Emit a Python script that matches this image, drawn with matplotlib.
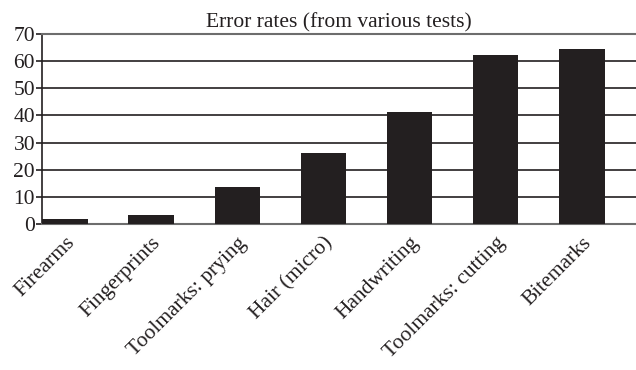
import matplotlib
matplotlib.use("Agg")
import matplotlib.pyplot as plt

# data
tests = ["Firearms", "Fingerprints", "Toolmarks: prying", "Hair (micro)",
         "Handwriting", "Toolmarks: cutting", "Bitemarks"]
error_rates = [1.8, 3.2, 13.6, 26.2, 41.1, 62.3, 64.4]
yticks = [0, 10, 20, 30, 40, 50, 60, 70]

plt.rcParams['font.family'] = ['Liberation Serif', 'DejaVu Serif']

fig = plt.figure(figsize=(6.36, 3.70), dpi=100)
ax = fig.add_axes([0.066, 0.395, 0.934, 0.513])

x = range(len(tests))
ax.bar(x, error_rates, width=0.53, color="#231f20", zorder=3)

ax.set_ylim(0, 70)
ax.set_xlim(-0.27, 6.63)
ax.set_yticks(yticks)
ax.set_yticklabels([str(v) for v in yticks], fontsize=15.5, color="#231f20")
ax.yaxis.grid(True, color="#231f20", linewidth=1.2, zorder=0)
ax.set_xticks(list(x))
ax.set_xticklabels(tests, rotation=45, ha="right", rotation_mode="anchor",
                   fontsize=15.5, color="#231f20")
ax.tick_params(axis="x", length=0, pad=7)
ax.tick_params(axis="y", length=4, width=1.2, color="#231f20", pad=1)

ax.spines["right"].set_visible(False)
ax.spines["top"].set_color("#6d6d6d")
ax.spines["top"].set_linewidth(1.5)
ax.spines["bottom"].set_color("#6d6d6d")
ax.spines["bottom"].set_linewidth(1.5)
ax.spines["left"].set_color("#231f20")
ax.spines["left"].set_linewidth(1.2)

ax.set_title("Error rates (from various tests)", fontsize=15.5, pad=5,
             color="#231f20")

fig.savefig("out.png", dpi=100)
